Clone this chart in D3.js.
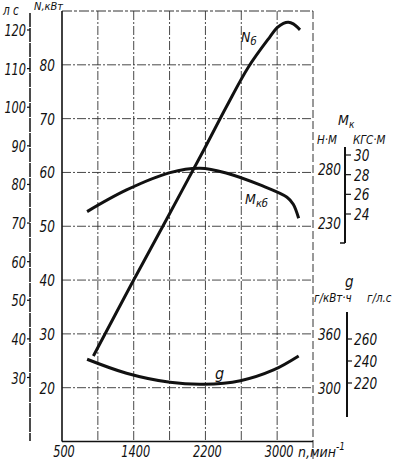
<!DOCTYPE html>
<html><head><meta charset="utf-8">
<script src="https://cdn.jsdelivr.net/npm/d3@7"></script>
<style>
html,body{margin:0;padding:0;background:#fff;}
text{font-family:"Liberation Sans Narrow","DejaVu Sans Condensed","Liberation Sans",sans-serif;font-style:italic;fill:#111;}
</style></head>
<body>
<svg id="c" width="400" height="465"></svg>
<script>
// ---- data ----
const nbRpm = [950, 1380, 1770, 2195, 2440, 2680, 2920, 3000, 3070, 3125, 3180, 3255];
const nbKw  = [25.9, 39.4, 51.4, 64.6, 72.4, 79.6, 85.2, 86.9, 87.7, 87.9, 87.6, 86.5];
const mkRpm = [880, 1320, 1805, 2140, 2440, 2810, 3110, 3180, 3240];
const mkNm  = [243.6, 263.7, 279.8, 283.9, 279.3, 268.4, 257.0, 250.5, 237.4];
const gRpm  = [880, 1320, 1805, 2180, 2590, 2960, 3240];
const gVal  = [331.7, 316.1, 306.0, 303.8, 307.8, 319.8, 335.4];

const xGrid = [1000, 1400, 1800, 2200, 2600, 3000];
const xTickValues = [600, 1400, 2200, 3000];
const xTickLabels = ["500", "1400", "2200", "3000"];
const kwTicks = [20, 30, 40, 50, 60, 70, 80];
const hpTicks = [30, 40, 50, 60, 70, 80, 90, 100, 110, 120];
const nmTicks = [230, 280];
const kgfTicks = [24, 26, 28, 30];
const gKwTicks = [300, 360];
const gHpTicks = [220, 240, 260];

// ---- scales ----
const x = d3.scaleLinear().domain([600, 3400]).range([62, 313]);
const kw = d3.scaleLinear().domain([10, 90]).range([441.5, 11]);
const nm = d3.scaleLinear().domain([230, 280]).range([kw(50), kw(60)]);
const gs = d3.scaleLinear().domain([300, 360]).range([kw(20), kw(30)]);
const hp = d3.scaleLinear().domain([30, 120]).range([377.5, 30]);
const kgf = d3.scaleLinear().domain([24, 30]).range([214, 155]);
const gHp = d3.scaleLinear().domain([220, 260]).range([383, 339]);

const svg = d3.select("#c");
const ink = "#111";
const gridDash = "9,2,2,2";

// grid
const g = svg.append("g");
g.selectAll(".hg").data(kwTicks).join("line")
  .attr("x1", x(600)).attr("x2", x(3400))
  .attr("y1", d => kw(d)).attr("y2", d => kw(d))
  .attr("stroke", "#333").attr("stroke-width", 0.9).attr("stroke-dasharray", gridDash);
g.selectAll(".vg").data(xGrid).join("line")
  .attr("x1", d => x(d)).attr("x2", d => x(d))
  .attr("y1", kw(90)).attr("y2", kw(10))
  .attr("stroke", "#333").attr("stroke-width", 0.9).attr("stroke-dasharray", gridDash);
// frame
g.append("line").attr("x1", x(600)).attr("x2", x(3400)).attr("y1", kw(90)).attr("y2", kw(90))
  .attr("stroke", "#333").attr("stroke-width", 1).attr("stroke-dasharray", "10,2,3,2");
g.append("line").attr("x1", x(3400)).attr("x2", x(3400)).attr("y1", kw(90)).attr("y2", 462)
  .attr("stroke", "#333").attr("stroke-width", 1).attr("stroke-dasharray", "8,3");
g.append("line").attr("x1", x(600)).attr("x2", x(600)).attr("y1", kw(90)).attr("y2", kw(10))
  .attr("stroke", ink).attr("stroke-width", 1.6);
g.append("line").attr("x1", x(600)).attr("x2", x(3400)).attr("y1", kw(10)).attr("y2", kw(10))
  .attr("stroke", ink).attr("stroke-width", 1.6);

// kW labels
svg.selectAll(".kwl").data(kwTicks).join("text").attr("class", "sq")
  .attr("x", 55).attr("y", d => kw(d) + 6).attr("text-anchor", "end")
  .attr("font-size", 16).text(d => d);
svg.append("text").attr("x", 34).attr("y", 10).attr("font-size", 11).text("N,кВт");

// hp axis
svg.append("line").attr("x1", 30).attr("x2", 30).attr("y1", 13).attr("y2", 441)
  .attr("stroke", ink).attr("stroke-width", 1.5).attr("stroke-dasharray", "14,1");
svg.selectAll(".hpt").data(hpTicks).join("line")
  .attr("x1", 27).attr("x2", 30).attr("y1", d => hp(d)).attr("y2", d => hp(d))
  .attr("stroke", ink).attr("stroke-width", 1.2);
svg.selectAll(".hpl").data(hpTicks).join("text").attr("class", "sq")
  .attr("x", 26).attr("y", d => hp(d) + 6).attr("text-anchor", "end")
  .attr("font-size", 15).text(d => d);
svg.append("text").attr("class", "sq").attr("x", 3).attr("y", 15).attr("font-size", 14).text("л с");

// x labels
svg.selectAll(".xl").data(xTickValues).join("text").attr("class", "sq")
  .attr("x", d => x(d) + 2).attr("y", 457).attr("text-anchor", "middle")
  .attr("font-size", 15).text((d, i) => xTickLabels[i]);
const xt = svg.append("text").attr("x", 298).attr("y", 457).attr("font-size", 14);
xt.append("tspan").text("n,мин");
xt.append("tspan").attr("dy", -7).attr("font-size", 10).text("-1");

// Mk axis
svg.append("line").attr("x1", 345).attr("x2", 345).attr("y1", 147).attr("y2", 243)
  .attr("stroke", ink).attr("stroke-width", 2);
svg.append("line").attr("x1", 340).attr("x2", 345).attr("y1", 243).attr("y2", 243)
  .attr("stroke", ink).attr("stroke-width", 1.5);
svg.selectAll(".kgt").data(kgfTicks).join("line")
  .attr("x1", 345).attr("x2", 351).attr("y1", d => kgf(d)).attr("y2", d => kgf(d))
  .attr("stroke", ink).attr("stroke-width", 1.2);
svg.selectAll(".kgl").data(kgfTicks).join("text").attr("class", "sq")
  .attr("x", 354).attr("y", d => kgf(d) + 6).attr("font-size", 16).text(d => d);
svg.selectAll(".nml").data(nmTicks).join("text").attr("class", "sq")
  .attr("x", 341).attr("y", d => nm(d) + 3).attr("text-anchor", "end")
  .attr("font-size", 16).text(d => d);
const mkT = svg.append("text").attr("x", 338).attr("y", 125).attr("font-size", 14);
mkT.append("tspan").text("M");
mkT.append("tspan").attr("dy", 3).attr("font-size", 10).text("к");
svg.append("text").attr("x", 317).attr("y", 144).attr("font-size", 11.5).text("Н·М");
svg.append("text").attr("x", 353).attr("y", 144).attr("font-size", 11.5).text("КГС·М");

// g axis
svg.append("line").attr("x1", 347).attr("x2", 347).attr("y1", 312).attr("y2", 417)
  .attr("stroke", ink).attr("stroke-width", 2);
svg.selectAll(".ght").data(gHpTicks).join("line")
  .attr("x1", 347).attr("x2", 352).attr("y1", d => gHp(d)).attr("y2", d => gHp(d))
  .attr("stroke", ink).attr("stroke-width", 1.2);
svg.selectAll(".ghl").data(gHpTicks).join("text").attr("class", "sq")
  .attr("x", 354).attr("y", d => gHp(d) + 6).attr("font-size", 16).text(d => d);
svg.selectAll(".gkl").data(gKwTicks).join("text").attr("class", "sq")
  .attr("x", 341).attr("y", d => gs(d) + 6).attr("text-anchor", "end")
  .attr("font-size", 16).text(d => d);
svg.append("text").attr("x", 345).attr("y", 287).attr("font-size", 15).text("g");
svg.append("text").attr("x", 314).attr("y", 302).attr("font-size", 11.5).text("г/кВт·ч");
svg.append("text").attr("x", 367).attr("y", 302).attr("font-size", 11.5).text("г/л.с");

// curves
const curve = d3.curveCatmullRom.alpha(0.5);
const lineNb = d3.line().x(d => x(d[0])).y(d => kw(d[1])).curve(curve);
const lineMk = d3.line().x(d => x(d[0])).y(d => nm(d[1])).curve(curve);
const lineG = d3.line().x(d => x(d[0])).y(d => gs(d[1])).curve(curve);
const cg = svg.append("g").attr("fill", "none").attr("stroke", ink).attr("stroke-width", 3);
cg.append("path").attr("d", lineNb(nbRpm.map((r, i) => [r, nbKw[i]])));
cg.append("path").attr("d", lineMk(mkRpm.map((r, i) => [r, mkNm[i]])));
cg.append("path").attr("d", lineG(gRpm.map((r, i) => [r, gVal[i]])));

// curve labels
const nbT = svg.append("text").attr("x", 241).attr("y", 42).attr("font-size", 14);
nbT.append("tspan").text("N");
nbT.append("tspan").attr("dy", 3).attr("font-size", 11).text("б");
const mkbT = svg.append("text").attr("x", 245).attr("y", 204).attr("font-size", 14);
mkbT.append("tspan").text("M");
mkbT.append("tspan").attr("dy", 3).attr("font-size", 11).text("кб");
svg.append("text").attr("x", 215).attr("y", 379).attr("font-size", 16).text("g");

// condense numeric labels to the narrow drafting lettering
svg.selectAll("text.sq").each(function () {
  const L = this.getComputedTextLength();
  this.setAttribute("textLength", (L * 0.84).toFixed(1));
  this.setAttribute("lengthAdjust", "spacingAndGlyphs");
});
</script>
</body></html>
